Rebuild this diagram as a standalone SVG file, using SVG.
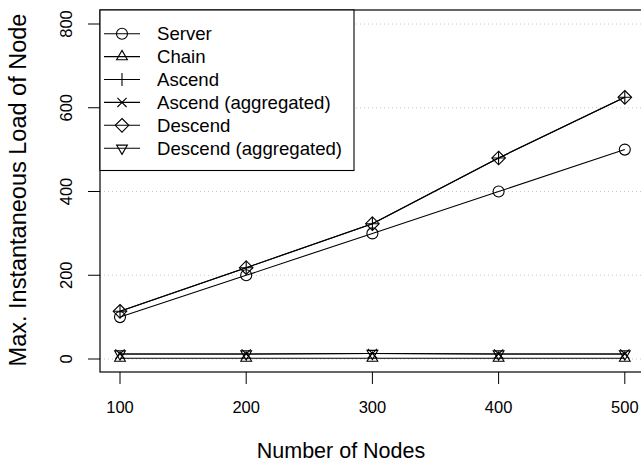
<svg xmlns="http://www.w3.org/2000/svg" width="641" height="464" viewBox="0 0 641 464">
<style>
  .ln{fill:none;stroke:#000;stroke-width:1.1}
  .mk{fill:none;stroke:#000;stroke-width:1.1}
  .grid{stroke:#c8c8c8;stroke-width:1;stroke-dasharray:1 3}
  .tick{stroke:#000;stroke-width:1}
  .tl{font-family:"Liberation Sans",Arial,sans-serif;font-size:16.5px;fill:#000}
  .title{font-family:"Liberation Sans",Arial,sans-serif;font-size:23.5px;fill:#000}
  .xtitle{font-family:"Liberation Sans",Arial,sans-serif;font-size:21.5px;fill:#000}
  .lg{font-family:"Liberation Sans",Arial,sans-serif;font-size:18.6px;fill:#000}
</style>
<defs>
  <circle id="m-circ" r="5.5" class="mk"/>
  <polygon id="m-tup" points="0,-6.2 5.4,3.1 -5.4,3.1" class="mk"/>
  <polygon id="m-tdn" points="0,6.2 5.4,-3.1 -5.4,-3.1" class="mk"/>
  <path id="m-plus" d="M-6.5,0H6.5M0,-6.5V6.5" class="mk"/>
  <path id="m-x" d="M-4.6,-4.6L4.6,4.6M-4.6,4.6L4.6,-4.6" class="mk"/>
  <polygon id="m-dia" points="0,-6.8 6.8,0 0,6.8 -6.8,0" class="mk"/>
</defs>
<rect width="641" height="464" fill="#fff"/>

<g id="grid">
  <line class="grid" x1="100" y1="359" x2="641" y2="359"/>
  <line class="grid" x1="100" y1="275.25" x2="641" y2="275.25"/>
  <line class="grid" x1="100" y1="191.5" x2="641" y2="191.5"/>
  <line class="grid" x1="100" y1="107.75" x2="641" y2="107.75"/>
  <line class="grid" x1="100" y1="24" x2="641" y2="24"/>
</g>

<g id="axes">
  <rect x="100" y="10" width="545" height="362" fill="none" stroke="#000" stroke-width="1.2"/>
  <g class="tick">
    <line x1="88" y1="359" x2="100" y2="359"/>
    <line x1="88" y1="275.25" x2="100" y2="275.25"/>
    <line x1="88" y1="191.5" x2="100" y2="191.5"/>
    <line x1="88" y1="107.75" x2="100" y2="107.75"/>
    <line x1="88" y1="24" x2="100" y2="24"/>
    <line x1="120" y1="372" x2="120" y2="384"/>
    <line x1="246.2" y1="372" x2="246.2" y2="384"/>
    <line x1="372.4" y1="372" x2="372.4" y2="384"/>
    <line x1="498.6" y1="372" x2="498.6" y2="384"/>
    <line x1="624.8" y1="372" x2="624.8" y2="384"/>
  </g>
  <g class="tl" text-anchor="middle">
    <text x="120" y="413">100</text>
    <text x="246.2" y="413">200</text>
    <text x="372.4" y="413">300</text>
    <text x="498.6" y="413">400</text>
    <text x="624.8" y="413">500</text>
    <text transform="translate(72,359) rotate(-90)">0</text>
    <text transform="translate(72,275.25) rotate(-90)">200</text>
    <text transform="translate(72,191.5) rotate(-90)">400</text>
    <text transform="translate(72,107.75) rotate(-90)">600</text>
    <text transform="translate(72,24) rotate(-90)">800</text>
  </g>
  <text class="xtitle" x="341" y="458" text-anchor="middle">Number of Nodes</text>
  <text class="title" text-anchor="middle" transform="translate(26,190) rotate(-90)">Max. Instantaneous Load of Node</text>
</g>

<g id="series">
  <g id="server">
    <polyline class="ln" points="120,317.1 246.2,275.3 372.4,233.4 498.6,191.5 624.8,149.6"/>
    <use href="#m-circ" x="120" y="317.1"/><use href="#m-circ" x="246.2" y="275.3"/><use href="#m-circ" x="372.4" y="233.4"/><use href="#m-circ" x="498.6" y="191.5"/><use href="#m-circ" x="624.8" y="149.6"/>
  </g>
  <g id="chain">
    <polyline class="ln" points="120,358.2 246.2,358.2 372.4,358.2 498.6,358.2 624.8,358.2"/>
    <use href="#m-tup" x="120" y="358.2"/><use href="#m-tup" x="246.2" y="358.2"/><use href="#m-tup" x="372.4" y="358.2"/><use href="#m-tup" x="498.6" y="358.2"/><use href="#m-tup" x="624.8" y="358.2"/>
  </g>
  <g id="ascend">
    <polyline class="ln" points="120,311.3 246.2,267.7 372.4,223.7 498.6,158 624.8,97.3"/>
    <use href="#m-plus" x="120" y="311.3"/><use href="#m-plus" x="246.2" y="267.7"/><use href="#m-plus" x="372.4" y="223.7"/><use href="#m-plus" x="498.6" y="158"/><use href="#m-plus" x="624.8" y="97.3"/>
  </g>
  <g id="ascend-agg">
    <polyline class="ln" points="120,354 246.2,354 372.4,353.5 498.6,354 624.8,354"/>
    <use href="#m-x" x="120" y="354"/><use href="#m-x" x="246.2" y="354"/><use href="#m-x" x="372.4" y="353.5"/><use href="#m-x" x="498.6" y="354"/><use href="#m-x" x="624.8" y="354"/>
  </g>
  <g id="descend">
    <polyline class="ln" points="120,311.3 246.2,267.7 372.4,223.7 498.6,158 624.8,97.3"/>
    <use href="#m-dia" x="120" y="311.3"/><use href="#m-dia" x="246.2" y="267.7"/><use href="#m-dia" x="372.4" y="223.7"/><use href="#m-dia" x="498.6" y="158"/><use href="#m-dia" x="624.8" y="97.3"/>
  </g>
  <g id="descend-agg">
    <polyline class="ln" points="120,354 246.2,354 372.4,353.5 498.6,354 624.8,354"/>
    <use href="#m-tdn" x="120" y="354"/><use href="#m-tdn" x="246.2" y="354"/><use href="#m-tdn" x="372.4" y="353.5"/><use href="#m-tdn" x="498.6" y="354"/><use href="#m-tdn" x="624.8" y="354"/>
  </g>
</g>

<g id="legend">
  <rect x="100" y="10" width="254" height="160.5" fill="#fff" stroke="#000" stroke-width="1.1"/>
  <g id="lg-server"><line class="ln" x1="104" y1="33.7" x2="140" y2="33.7"/><use href="#m-circ" x="122" y="33.7"/><text class="lg" x="157" y="40">Server</text></g>
  <g id="lg-chain"><line class="ln" x1="104" y1="56.6" x2="140" y2="56.6"/><use href="#m-tup" x="122" y="56.6"/><text class="lg" x="157" y="62.9">Chain</text></g>
  <g id="lg-ascend"><line class="ln" x1="104" y1="79.5" x2="140" y2="79.5"/><use href="#m-plus" x="122" y="79.5"/><text class="lg" x="157" y="85.8">Ascend</text></g>
  <g id="lg-ascend-agg"><line class="ln" x1="104" y1="102.4" x2="140" y2="102.4"/><use href="#m-x" x="122" y="102.4"/><text class="lg" x="157" y="108.7">Ascend (aggregated)</text></g>
  <g id="lg-descend"><line class="ln" x1="104" y1="125.3" x2="140" y2="125.3"/><use href="#m-dia" x="122" y="125.3"/><text class="lg" x="157" y="131.6">Descend</text></g>
  <g id="lg-descend-agg"><line class="ln" x1="104" y1="148.2" x2="140" y2="148.2"/><use href="#m-tdn" x="122" y="148.2"/><text class="lg" x="157" y="154.5">Descend (aggregated)</text></g>
</g>
</svg>
